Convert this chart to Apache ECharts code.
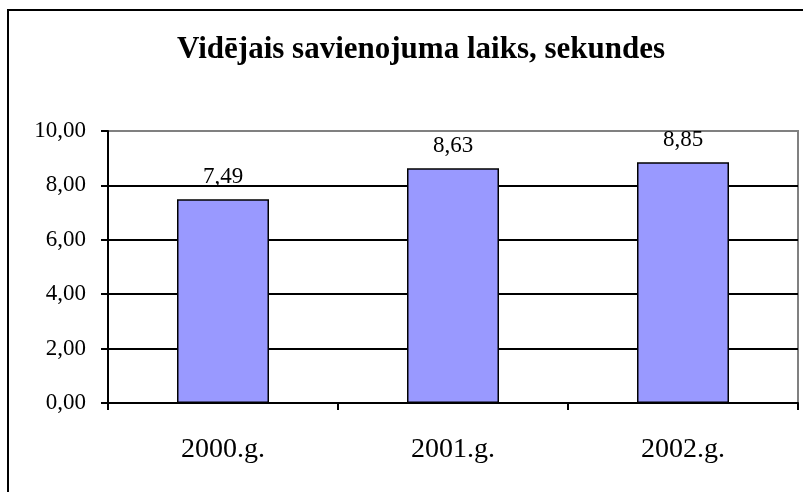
<!DOCTYPE html>
<html>
<head>
<meta charset="utf-8">
<script src="https://cdn.jsdelivr.net/npm/echarts@6/dist/echarts.min.js"></script>
<style>
  html, body { margin: 0; padding: 0; background: #fff; }
  #chart { width: 803px; height: 492px; }
</style>
</head>
<body>
<div id="chart"></div>
<script>
// dati
var years = ['2000.g.', '2001.g.', '2002.g.'];
var seconds = [7.49, 8.63, 8.85];
var titleText = 'Vidējais savienojuma laiks, sekundes';

function fmt(v) {
    return Number(v).toFixed(2).replace('.', ',');
}

var myChart = echarts.init(document.getElementById('chart'));

var option = {
    backgroundColor: '#fff',
    animation: false,
    title: {
        text: titleText,
        left: 172,
        top: 29,
        textStyle: {
            fontFamily: 'Liberation Serif',
            fontWeight: 'bold',
            fontSize: 31,
            color: '#000'
        }
    },
    graphic: [{
        type: 'rect',
        shape: { x: 8, y: 10, width: 820, height: 500 },
        style: { fill: 'none', stroke: '#000', lineWidth: 2 }
    }],
    grid: {
        left: 108,
        right: 5,
        top: 131,
        bottom: 89,
        show: true,
        borderColor: '#808080',
        borderWidth: 2
    },
    xAxis: {
        type: 'category',
        data: years,
        axisLine: { lineStyle: { color: '#000', width: 2 } },
        axisTick: { show: true, length: 7, lineStyle: { color: '#000', width: 2 } },
        axisLabel: {
            margin: 33,
            fontFamily: 'Liberation Serif',
            fontSize: 28,
            color: '#000'
        }
    },
    yAxis: {
        type: 'value',
        min: 0,
        max: 10,
        interval: 2,
        axisLine: { show: true, lineStyle: { color: '#000', width: 2 } },
        axisTick: { show: true, length: 7, lineStyle: { color: '#000', width: 2 } },
        axisLabel: {
            margin: 22,
            fontFamily: 'Liberation Serif',
            fontSize: 23,
            color: '#000',
            formatter: fmt
        },
        splitLine: {
            lineStyle: {
                color: ['#000', '#000', '#000', '#000', '#000', '#808080'],
                width: 2
            }
        }
    },
    series: [{
        type: 'bar',
        data: seconds,
        barWidth: '40%',
        itemStyle: {
            color: '#9999ff',
            borderColor: '#000',
            borderWidth: 1.5
        },
        label: {
            show: true,
            position: 'top',
            distance: 11,
            fontFamily: 'Liberation Serif',
            fontSize: 23,
            color: '#000',
            formatter: function (p) { return fmt(p.value); }
        }
    }]
};

myChart.setOption(option);
</script>
</body>
</html>
